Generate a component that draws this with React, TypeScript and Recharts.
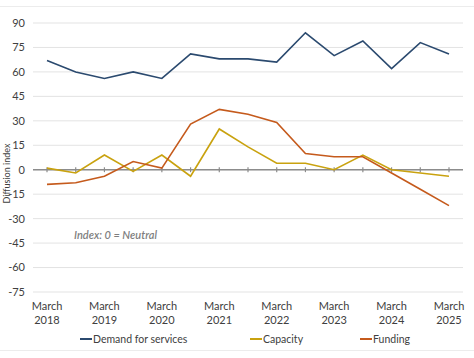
import React from 'react'
import { LineChart, Line, XAxis, YAxis, CartesianGrid, ReferenceLine, Legend } from 'recharts'

const periods = [
  'March 2018', 'September 2018', 'March 2019', 'September 2019', 'March 2020',
  'September 2020', 'March 2021', 'September 2021', 'March 2022', 'September 2022',
  'March 2023', 'September 2023', 'March 2024', 'September 2024', 'March 2025',
]
const demand = [67, 60, 56, 60, 56, 71, 68, 68, 66, 84, 70, 79, 62, 78, 71]
const capacity = [1, -2, 9, -1, 9, -4, 25, 14, 4, 4, 0, 9, 0, -2, -4]
const funding = [-9, -8, -4, 5, 1, 28, 37, 34, 29, 10, 8, 8, -2, -12, -22]
const yTicks = [-75, -60, -45, -30, -15, 0, 15, 30, 45, 60, 75, 90]

const series = [
  { key: 'demand', name: 'Demand for services', color: '#2b4a6f', left: 80 },
  { key: 'capacity', name: 'Capacity', color: '#c9a20f', left: 250 },
  { key: 'funding', name: 'Funding', color: '#c55a1c', left: 360 },
]

const data = periods.map((p, i) => ({
  period: p,
  demand: demand[i],
  capacity: capacity[i],
  funding: funding[i],
}))

const FONT = 'Lato, "Open Sans", sans-serif'

function PeriodTick({ x, y, payload }: any) {
  const [month, year] = String(payload.value).split(' ')
  return (
    <text x={x} y={y} textAnchor="middle" fill="#404040" fontSize={11} fontFamily={FONT}>
      <tspan x={x} dy={10}>{month}</tspan>
      <tspan x={x} dy={14}>{year}</tspan>
    </text>
  )
}

function YTitle({ viewBox }: any) {
  const cx = viewBox.x + 6
  const cy = viewBox.y + viewBox.height / 2 + 16
  return (
    <text x={cx} y={cy} transform={`rotate(-90 ${cx} ${cy})`} textAnchor="middle"
      dominantBaseline="central" fill="#404040" fontSize={9} fontFamily={FONT}>
      Diffusion index
    </text>
  )
}

function LegendBox() {
  return (
    <div style={{ position: 'relative', height: 24, fontFamily: FONT, fontSize: 10.5, color: '#404040' }}>
      {series.map(s => (
        <div key={s.key} style={{ position: 'absolute', left: s.left, top: 9, display: 'flex', alignItems: 'center', whiteSpace: 'nowrap' }}>
          <span style={{ display: 'inline-block', width: 12, height: 1.5, background: s.color, marginRight: 1 }} />
          <span>{s.name}</span>
        </div>
      ))}
    </div>
  )
}

export default function App() {
  return (
    <div style={{ position: 'absolute', left: 0, top: 0, width: 474, height: 358, background: '#fff' }}>
      <div style={{ position: 'absolute', left: 0, top: 6, width: 474, height: 0, borderTop: '1px solid #ececec' }} />
      <div style={{ position: 'absolute', left: 0, top: 350, width: 474, height: 0, borderTop: '1px solid #ececec' }} />
      <LineChart width={474} height={358} data={data} margin={{ top: 23, right: 11, left: 0, bottom: 10 }}>
        <CartesianGrid vertical={false} stroke="#e3e3e3" />
        <XAxis dataKey="period" interval={1} axisLine={false} tickLine={false} height={32}
          padding={{ left: 14, right: 14 }} tick={<PeriodTick />} />
        <YAxis domain={[-75, 90]} ticks={yTicks} width={33} axisLine={false} tickLine={false}
          tick={{ fill: '#404040', fontSize: 11, fontFamily: FONT }} label={<YTitle />} />
        <ReferenceLine y={0} stroke="#8c8c8c" strokeWidth={1.5} />
        {periods.map(p => (
          <ReferenceLine key={p} segment={[{ x: p, y: -1.5 }, { x: p, y: 1.5 }]} stroke="#8c8c8c" strokeWidth={1.2} />
        ))}
        {series.map(s => (
          <Line key={s.key} type="linear" dataKey={s.key} name={s.name} stroke={s.color}
            strokeWidth={1.6} dot={false} isAnimationActive={false} />
        ))}
        <Legend verticalAlign="bottom" height={24} content={<LegendBox />} />
      </LineChart>
      <div style={{ position: 'absolute', left: 74, top: 228, fontFamily: FONT, fontSize: 11, fontStyle: 'italic', fontWeight: 600, color: '#7f7f7f', whiteSpace: 'nowrap' }}>
        Index: 0 = Neutral
      </div>
    </div>
  )
}
